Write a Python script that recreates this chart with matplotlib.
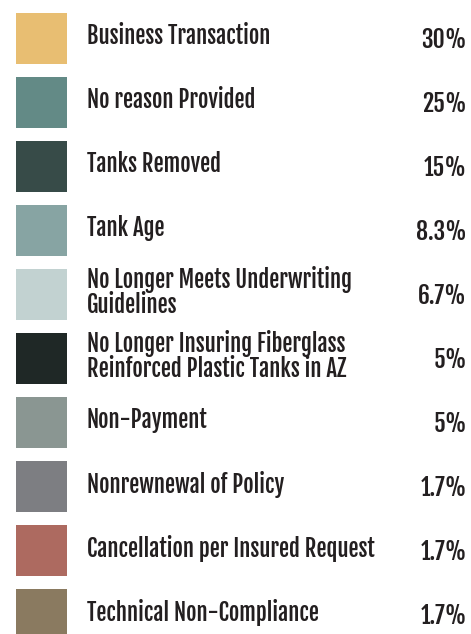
import matplotlib
matplotlib.use("Agg")
import matplotlib.pyplot as plt

categories = [
    "Business Transaction",
    "No reason Provided",
    "Tanks Removed",
    "Tank Age",
    "No Longer Meets Underwriting\nGuidelines",
    "No Longer Insuring Fiberglass\nReinforced Plastic Tanks in AZ",
    "Non-Payment",
    "Nonrewnewal of Policy",
    "Cancellation per Insured Request",
    "Technical Non-Compliance",
]
pct_labels = ["30%", "25%", "15%", "8.3%", "6.7%", "5%", "5%", "1.7%", "1.7%", "1.7%"]
colors = ["#E8BE72", "#638A86", "#374B48", "#87A4A3", "#C2D2D1",
          "#1F2826", "#8A9692", "#7D7E82", "#AD6A60", "#8A7A60"]

W, H = 471, 634
fig = plt.figure(figsize=(W / 100, H / 100), dpi=100)
ax = fig.add_axes([0, 0, 1, 1])
pitch = 64.0
top_center = 38.5
ax.set_xlim(0, W)
ax.set_ylim((H - top_center) / pitch, -top_center / pitch)
ax.axis("off")

n = len(categories)
rows = list(range(n))
ax.barh(rows, [51] * n, left=16, height=51 / pitch, color=colors, edgecolor="none")

px = 1 / pitch
for i, (lab, p) in enumerate(zip(categories, pct_labels)):
    ax.text(87, i - 2.5 * px, lab, family="Fjalla One", fontsize=16.3, color="#231F20",
            ha="left", va="center", linespacing=0.92)
    ax.text(467, i + 1.5 * px, p, family="Fjalla One", fontsize=17, color="#231F20",
            ha="right", va="center")

fig.savefig("out.png", dpi=100, facecolor="white")
